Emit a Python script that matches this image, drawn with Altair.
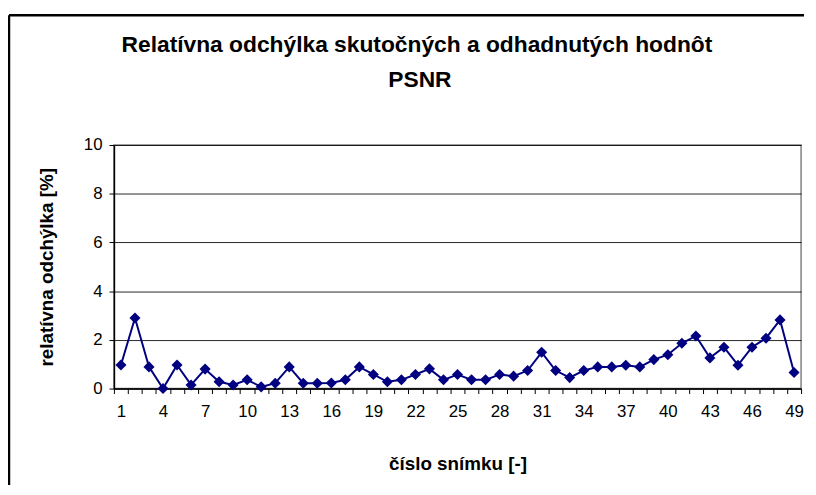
import altair as alt
import pandas as pd

title_lines = ["Relatívna odchýlka skutočných a odhadnutých hodnôt", "PSNR"]
x_title = "číslo snímku [-]"
y_title = "relatívna odchýlka [%]"

frames = list(range(1, 50))
deviation = [0.97, 2.9, 0.89, 0.0, 0.97, 0.15, 0.8, 0.28, 0.15, 0.36,
             0.07, 0.22, 0.89, 0.22, 0.22, 0.23, 0.36, 0.89, 0.58, 0.28,
             0.36, 0.58, 0.81, 0.36, 0.58, 0.36, 0.36, 0.58, 0.51, 0.74,
             1.49, 0.74, 0.45, 0.74, 0.89, 0.89, 0.96, 0.89, 1.19, 1.39,
             1.86, 2.16, 1.26, 1.7, 0.96, 1.7, 2.07, 2.82, 0.66]
y_ticks = [0, 2, 4, 6, 8, 10]

df = pd.DataFrame({"frame": frames, "dev": deviation})
dummy = pd.DataFrame({"k": [0]})

NAVY = "#000080"
FONT = "Liberation Sans"

x_enc = alt.X("frame:O", scale=alt.Scale(paddingInner=0, paddingOuter=0),
              axis=alt.Axis(title=x_title, labelAngle=0, tickBand="extent",
                            labelExpr="(datum.value - 1) % 3 == 0 ? datum.label : ''",
                            labelFont=FONT, labelFontSize=17, labelColor="black",
                            labelPadding=10, tickSize=5, tickColor="black",
                            domainColor="black", domainWidth=1.5,
                            titleFont=FONT, titleFontSize=19, titleFontWeight="bold",
                            titleColor="black", titleX=347, titleY=76,
                            titleBaseline="middle", titleAlign="center"))
y_enc = alt.Y("dev:Q", scale=alt.Scale(domain=[0, 10], nice=False),
              axis=alt.Axis(title=y_title, values=y_ticks, grid=True,
                            gridColor="black", gridWidth=1, gridOpacity=0.85,
                            labelFont=FONT, labelFontSize=17, labelColor="black",
                            labelPadding=7, tickSize=5, tickColor="black",
                            domainColor="black", domainWidth=1.5,
                            titleFont=FONT, titleFontSize=19, titleFontWeight="bold",
                            titleColor="black", titleX=-68, titleY=123,
                            titleAngle=270, titleBaseline="middle", titleAlign="center"))

line = alt.Chart(df).mark_line(color=NAVY, strokeWidth=2).encode(x=x_enc, y=y_enc)
pts = alt.Chart(df).mark_point(shape="diamond", filled=True, color=NAVY, size=125, opacity=1).encode(
    x="frame:O", y="dev:Q")

title1 = alt.Chart(dummy).mark_text(font=FONT, fontSize=23, fontWeight="bold", color="black",
                                    align="center", baseline="alphabetic").encode(
    x=alt.value(306), y=alt.value(-94), text=alt.value(title_lines[0]))
title2 = alt.Chart(dummy).mark_text(font=FONT, fontSize=23, fontWeight="bold", color="black",
                                    align="center", baseline="alphabetic").encode(
    x=alt.value(309), y=alt.value(-59), text=alt.value(title_lines[1]))

border_top = alt.Chart(dummy).mark_rule(color="black", strokeWidth=2.5).encode(
    x=alt.value(-106), x2=alt.value(697), y=alt.value(-131))
border_left = alt.Chart(dummy).mark_rule(color="black", strokeWidth=2.5).encode(
    x=alt.value(-106), y=alt.value(-131), y2=alt.value(360))

chart = alt.layer(line, pts, title1, title2, border_top, border_left).properties(
    width=694, height=246,
    autosize=alt.AutoSizeParams(type="none"),
    padding={"left": 107, "top": 136, "right": 7, "bottom": 95},
).configure_view(stroke="#808080", strokeWidth=1.5)

chart.save("out.html", embed_options={"renderer": "svg", "actions": False})
